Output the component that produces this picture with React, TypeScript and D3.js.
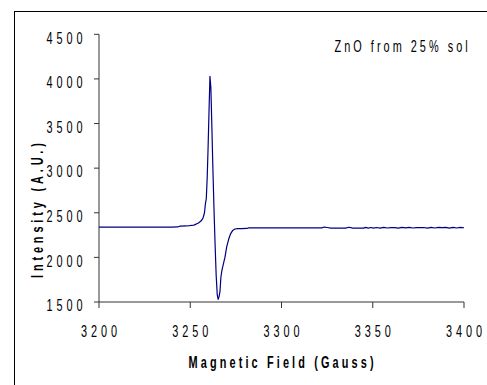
import React from "react";
import * as d3 from "d3";

const fields = [
  3200, 3210, 3220, 3230, 3240, 3243, 3244.5, 3248, 3252, 3254.5, 3256, 3257,
  3257.8, 3258.3, 3258.8, 3259.3, 3259.8, 3260.3, 3260.8, 3261.3, 3261.8,
  3262.4, 3263, 3263.6, 3264.2, 3264.8, 3265.3, 3265.8, 3266.3, 3266.8,
  3267.4, 3268.2, 3269, 3270, 3271, 3272, 3273.2, 3274.5, 3276, 3278, 3281,
  3282, 3290, 3300, 3310, 3320, 3322, 3323.5, 3325, 3327, 3330, 3335, 3337,
  3339, 3345, 3346, 3347.5, 3349, 3350.5, 3352, 3354, 3356, 3358, 3360, 3362,
  3364, 3366, 3368, 3370, 3372, 3374, 3376, 3378, 3380, 3382, 3384, 3386,
  3388, 3390, 3392, 3394, 3396, 3398, 3400,
];
const intensity = [
  2340, 2340, 2340, 2340, 2340, 2341, 2350, 2352, 2362, 2385, 2410, 2440,
  2500, 2600, 2660, 2900, 3250, 3650, 4030, 3900, 3500,
  3000, 2550, 2150, 1800, 1580, 1530, 1560, 1620, 1780,
  1860, 1930, 2000, 2120, 2200, 2260, 2300, 2318, 2322, 2322, 2324,
  2330, 2330, 2330, 2330, 2330, 2330, 2340, 2335, 2328, 2328, 2328, 2338,
  2328, 2328, 2336, 2328, 2335, 2327, 2335, 2328, 2336, 2329, 2333, 2333,
  2327, 2336, 2330, 2337, 2329, 2334, 2334, 2335, 2328, 2336, 2329, 2336,
  2334, 2336, 2328, 2337, 2329, 2337, 2332,
];
const xTicks = [3200, 3250, 3300, 3350, 3400];
const yTicks = [1500, 2000, 2500, 3000, 3500, 4000, 4500];
const xTitle = "Magnetic Field (Gauss)";
const yTitle = "Intensity (A.U.)";
const annotation = "ZnO from 25% sol";

const W = 487;
const H = 385;
const left = 99;
const right = 464;
const top = 34.3;
const bottom = 302;
const FONT = "'Liberation Sans', Arial, Helvetica, sans-serif";
const AXIS = "#333333";
const SX = 0.68;

export default function App() {
  const x = d3.scaleLinear().domain([3200, 3400]).range([left, right]);
  const y = d3.scaleLinear().domain([1500, 4500]).range([bottom, top]);
  const pts: [number, number][] = fields.map((f, i) => [f, intensity[i]]);
  const line = d3
    .line<[number, number]>()
    .x((d) => x(d[0]))
    .y((d) => y(d[1]))
    .curve(d3.curveLinear);

  const tickSpacing = 5.8; // unscaled letter spacing
  const postSp = tickSpacing * SX;

  return (
    <svg
      width={W}
      height={H}
      style={{ position: "absolute", left: 0, top: 0, background: "#fff" }}
      fontFamily={FONT}
    >
      <rect x={0} y={0} width={W} height={H} fill="#fff" />
      {/* outer frame */}
      <rect x={14.5} y={11.5} width={520} height={420} fill="none" stroke="#000" strokeWidth={1} />

      {/* axes */}
      <line x1={left} x2={left} y1={top} y2={bottom} stroke={AXIS} strokeWidth={1} />
      <line x1={left} x2={right} y1={bottom} y2={bottom} stroke={AXIS} strokeWidth={1} />
      {yTicks.map((t) => (
        <line key={"yt" + t} x1={left - 5} x2={left} y1={y(t)} y2={y(t)} stroke={AXIS} strokeWidth={1} />
      ))}
      {xTicks.map((t) => (
        <line key={"xt" + t} x1={x(t)} x2={x(t)} y1={bottom} y2={bottom + 6} stroke={AXIS} strokeWidth={1} />
      ))}

      {/* tick labels */}
      {yTicks.map((t) => (
        <text
          key={"yl" + t}
          transform={`translate(${82 + postSp + 0.5},${y(t) + 9.2}) scale(${SX},1)`}
          textAnchor="end"
          fontSize={16}
          letterSpacing={tickSpacing}
          fill="#000"
        >
          {String(t)}
        </text>
      ))}
      {xTicks.map((t) => (
        <text
          key={"xl" + t}
          transform={`translate(${x(t) + postSp / 2},${336.5}) scale(${SX},1)`}
          textAnchor="middle"
          fontSize={16}
          letterSpacing={tickSpacing}
          fill="#000"
        >
          {String(t)}
        </text>
      ))}

      {/* axis titles */}
      <text
        transform={`translate(${281 + 1.6},${367.5}) scale(${SX},1)`}
        textAnchor="middle"
        fontSize={16}
        fontWeight="bold"
        letterSpacing={4.62}
        fill="#000"
      >
        {xTitle}
      </text>
      <text
        transform={`translate(${42.5},${210.5 - 1.9}) rotate(-90) scale(${SX},1)`}
        textAnchor="middle"
        fontSize={16}
        fontWeight="bold"
        letterSpacing={5.7}
        fill="#000"
      >
        {yTitle}
      </text>

      {/* annotation */}
      <text
        transform={`translate(${334.5},${51.5}) scale(${SX},1)`}
        textAnchor="start"
        fontSize={16}
        letterSpacing={4.47}
        fill="#000"
      >
        {annotation}
      </text>

      {/* data */}
      <path d={line(pts) || ""} fill="none" stroke="#000080" strokeWidth={1.2} strokeLinejoin="round" />
    </svg>
  );
}
